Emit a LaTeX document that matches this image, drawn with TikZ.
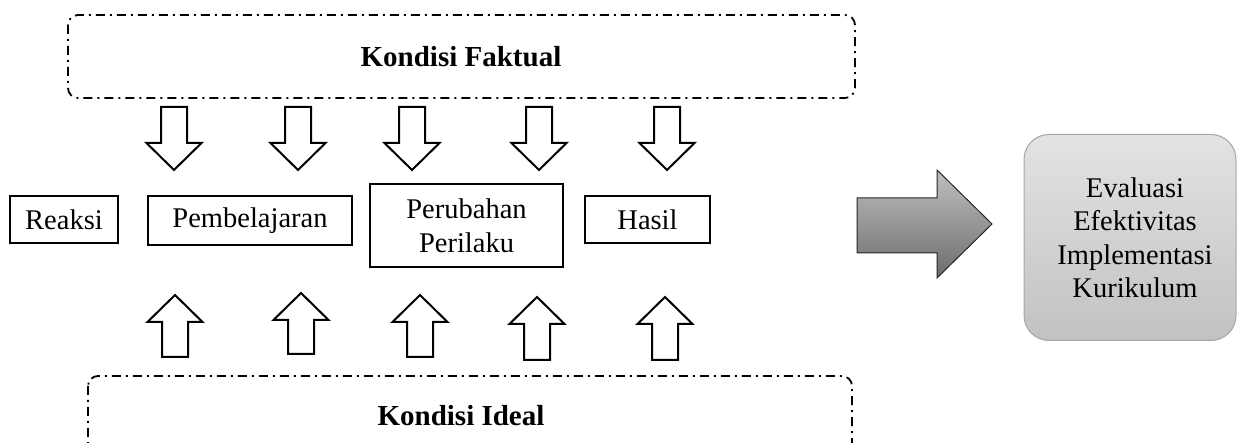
\documentclass[tikz,border=0pt]{standalone}
\usepackage{fontspec}
\setmainfont{Liberation Serif}
\tikzset{
  condbox/.style={draw, line width=1.8pt, rounded corners=10pt, dash pattern=on 9pt off 5pt on 2pt off 5pt},
  stagebox/.style={draw, line width=2pt, inner sep=0pt, font=\fontsize{28.5}{34}\selectfont, align=center},
  hollowarrow/.style={draw, line width=2pt, fill=white, line join=miter},
  txt/.style={font=\fontsize{28.5}{33.5}\selectfont, align=center, inner sep=0pt},
  btxt/.style={font=\fontsize{29}{34}\selectfont\bfseries, inner sep=0pt},
  evalbox/.style={draw=gray!70, line width=1pt, rounded corners=25pt, top color=gray!22, bottom color=gray!48},
  bigarrow/.style={draw=black!85, line width=1pt, top color=gray!50, bottom color=gray!85!black}
}
\begin{document}
\begin{tikzpicture}[x=1pt,y=-1pt]
\useasboundingbox (0,0) rectangle (1237,443);
\clip (0,0) rectangle (1237,443);
% condition boxes
\draw[condbox] (68,15) rectangle (855,98);
\node[btxt] (fak) at (461,57) {Kondisi Faktual};
\draw[condbox] (88,376) rectangle (852,480);
\node[btxt] (ide) at (461,416) {Kondisi Ideal};
% stage boxes
\node[stagebox, minimum width=108pt, minimum height=47pt] (rea) at (64,219.5) {Reaksi};
\node[stagebox, minimum width=204pt, minimum height=49pt] (pem) at (250,220.5) {Pembelajaran};
\node[stagebox, minimum width=193pt, minimum height=83pt] (per) at (466.5,225.5) {Perubahan\\Perilaku};
\node[stagebox, minimum width=125pt, minimum height=47pt] (has) at (647.5,219.5) {Hasil};
% down arrows
\foreach \cx in {174,298,412,539,667}{
  \draw[hollowarrow] (\cx-13,107) -- (\cx+13,107) -- (\cx+13,143) -- (\cx+27.5,143) -- (\cx,170) -- (\cx-27.5,143) -- (\cx-13,143) -- cycle;
}
% up arrows
\foreach \cx/\ty/\by in {175/295/357,301/293/354,420/295/357,537/297/360,665/297/360}{
  \draw[hollowarrow] (\cx-13,\by) -- (\cx+13,\by) -- (\cx+13,\ty+27) -- (\cx+27.5,\ty+27) -- (\cx,\ty) -- (\cx-27.5,\ty+27) -- (\cx-13,\ty+27) -- cycle;
}
% big arrow
\draw[bigarrow] (857,198) -- (937,198) -- (937,170) -- (992,224) -- (937,278) -- (937,253) -- (857,253) -- cycle;
% evaluation box
\node[evalbox, minimum width=212pt, minimum height=206pt, inner sep=0pt] (eva) at (1130,237.5) {};
\node[txt] (evt) at (1135,238) {Evaluasi\\Efektivitas\\Implementasi\\Kurikulum};
\end{tikzpicture}
\end{document}
